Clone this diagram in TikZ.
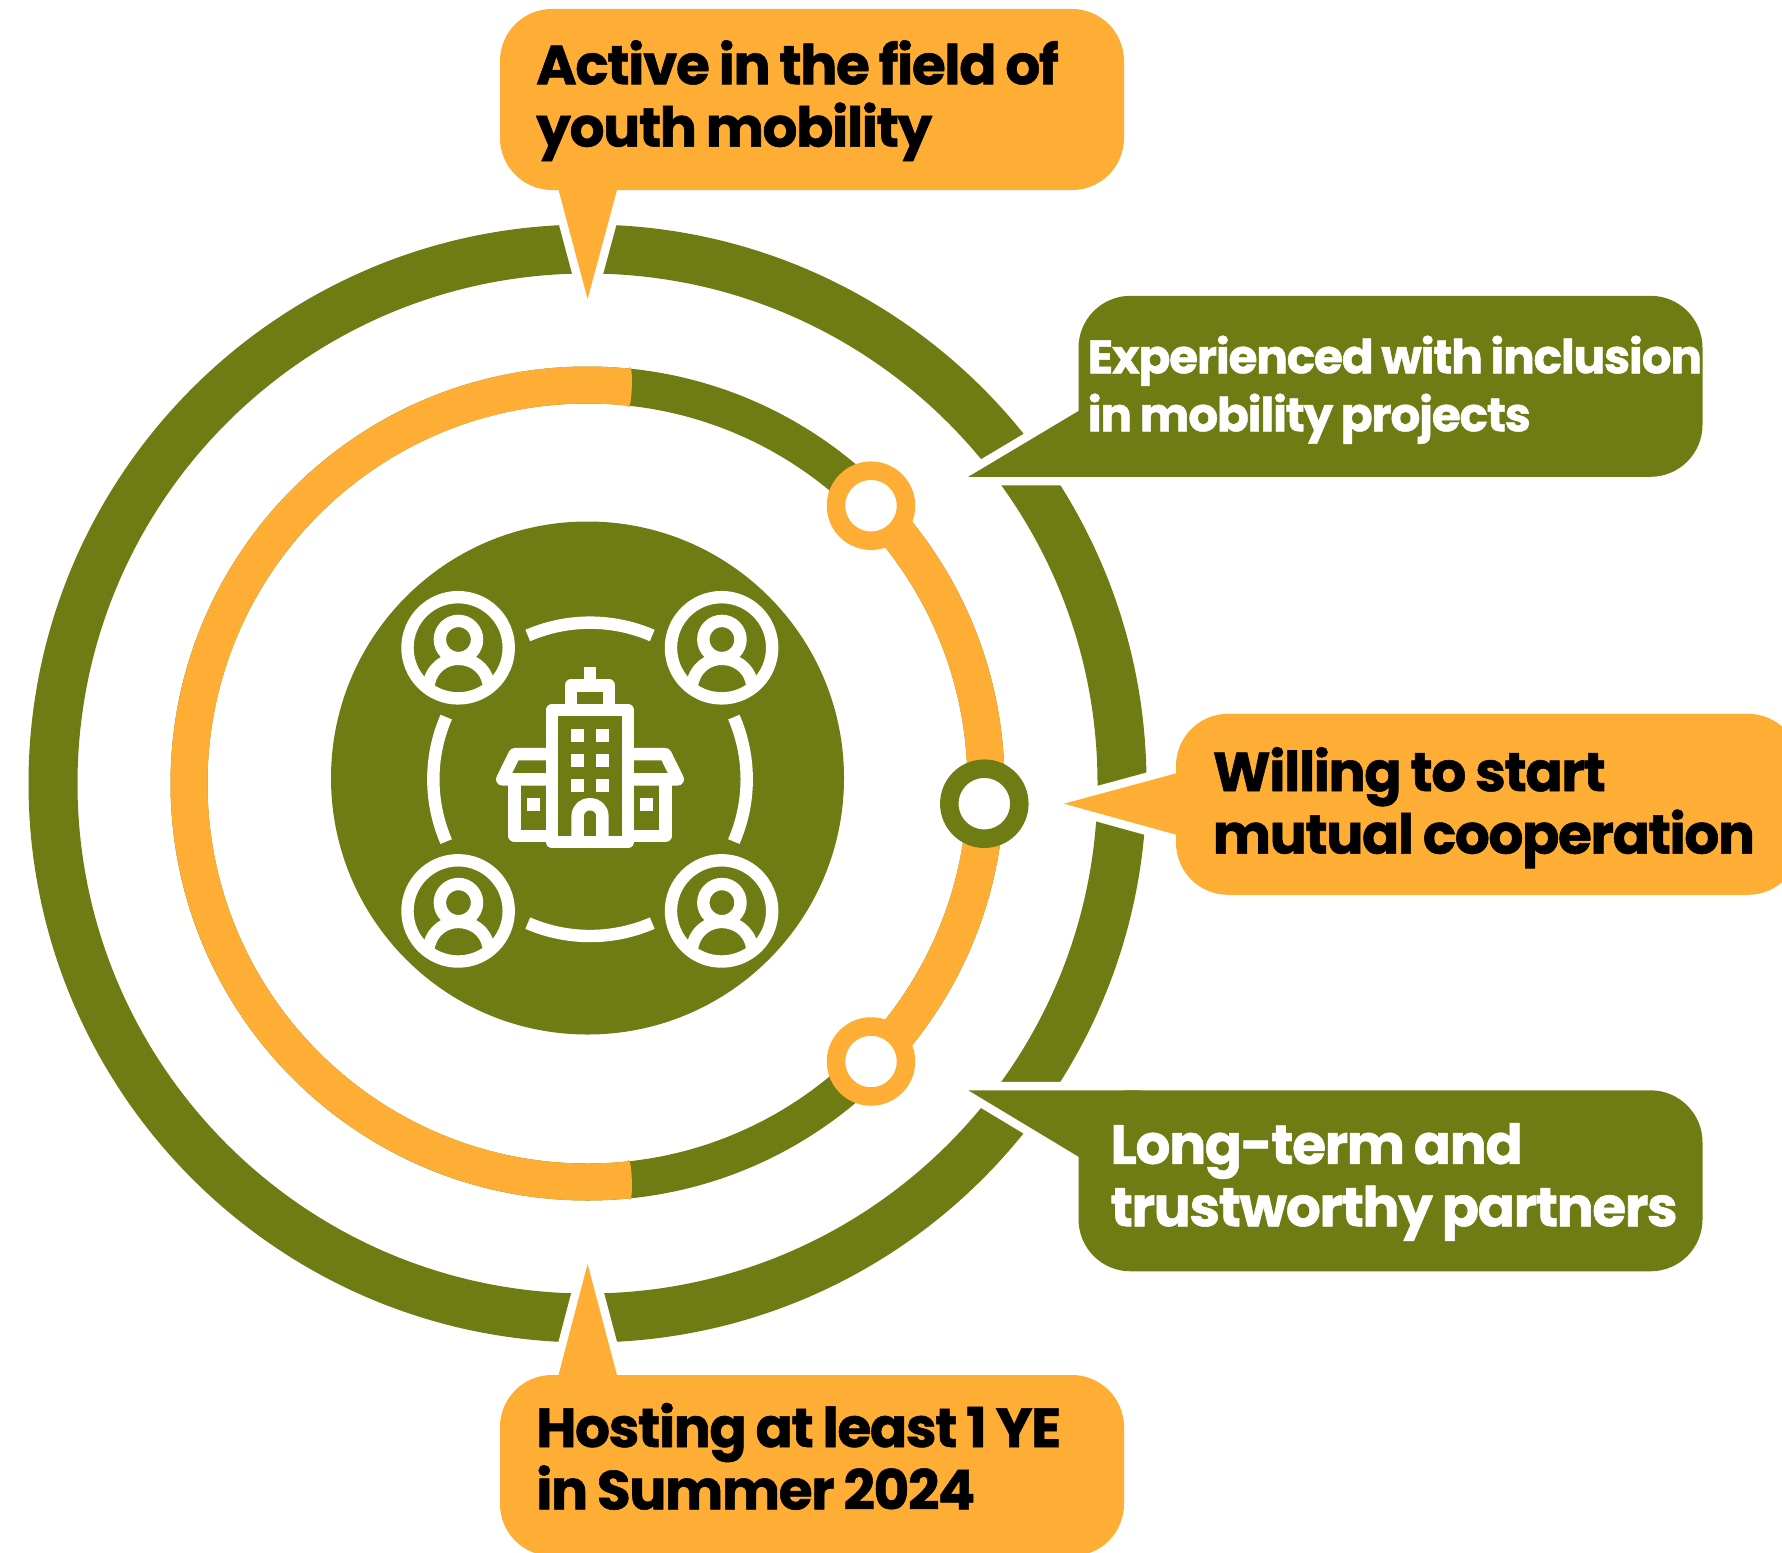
\documentclass[tikz,border=0pt]{standalone}
\usepackage{fontspec}
\newfontfamily\boldfont{Poppins}[UprightFont=* Bold,FakeBold=1,LetterSpace=-2.55]
\definecolor{olivegreen}{HTML}{6E7C13}
\definecolor{amber}{HTML}{FFAE35}
\newcommand{\callfont}[2]{\boldfont\fontsize{#1}{#2}\selectfont\setlength{\spaceskip}{0.16em}}
\tikzset{
  bubble/.style={rounded corners=52, minimum height=181, minimum width=624, inner sep=0pt},
  amberbubble/.style={bubble, fill=amber},
  greenbubble/.style={bubble, fill=olivegreen},
  calltext/.style n args={2}{anchor=west, inner sep=0pt, align=left, font=\callfont{#1}{#2}},
  halo/.style={draw=white, fill=white, line width=17, line join=round},
  marker/.style={circle, draw=#1, fill=white, line width=18.5, minimum size=70, inner sep=0pt},
  icon/.style={draw=white, line width=12.4, line join=round},
}
\begin{document}
\begin{tikzpicture}[x=1pt, y=-1pt]
  \useasboundingbox (0,0) rectangle (1782,1552);
  \coordinate (c) at (587.5,783.5);
  % rings
  \draw[olivegreen, line width=49] (c) circle (534.5);
  \draw[olivegreen, line width=37] (c) circle (398.5);
  \fill[amber] ([shift={(c)}]-84.3:417) arc [start angle=-84.3, end angle=-275.7, radius=417]
    .. controls +(5,12) and +(5,-12) .. ([shift={(c)}]-276:380)
    arc [start angle=-276, end angle=-84, radius=380]
    .. controls +(5,12) and +(5,-12) .. cycle;
  \draw[amber, line width=37] ([shift={(c)}]-44.4:398.5) arc [start angle=-44.4, end angle=44.4, radius=398.5];
  \node[circle, fill=olivegreen, minimum size=513, inner sep=0pt] (disc) at (587.5,778) {};
  \node[marker=amber] (mtop) at (871,505.7) {};
  \node[marker=olivegreen] (mmid) at (984.3,803.7) {};
  \node[marker=amber] (mbot) at (871,1061.5) {};
  % tail points
  \coordinate (activetip) at (587.6,299);
  \coordinate (activea) at (558,188);
  \coordinate (activeb) at (617.5,188);
  \coordinate (expertip) at (968.3,476.8);
  \coordinate (expera) at (1079,410.7);
  \coordinate (experb) at (1140,476.8);
  \coordinate (experc) at (1140,410.7);
  \coordinate (willtip) at (1064,803.7);
  \coordinate (willa) at (1176.3,773.3);
  \coordinate (willb) at (1176.3,834.7);
  \coordinate (longtip) at (968.3,1090.3);
  \coordinate (longa) at (1079,1157);
  \coordinate (longb) at (1140,1090.3);
  \coordinate (longc) at (1140,1157);
  \coordinate (hosttip) at (587.6,1264);
  \coordinate (hosta) at (558,1377);
  \coordinate (hostb) at (617.5,1377);
  % white gaps in the outer ring
  \draw[halo] (activea) -- (activetip) -- (activeb) -- cycle;
  \draw[halo] (expera) -- (expertip) -- (experb) -- (experc) -- cycle;
  \draw[halo] (willa) -- (willtip) -- (willb) -- cycle;
  \draw[halo] (longa) -- (longtip) -- (longb) -- (longc) -- cycle;
  \draw[halo] (hosta) -- (hosttip) -- (hostb) -- cycle;
  \fill[amber] (activea) -- (activetip) -- (activeb) -- cycle;
  \fill[olivegreen] (expera) -- (expertip) -- (experb) -- (experc) -- cycle;
  \fill[amber] (willa) -- (willtip) -- (willb) -- cycle;
  \fill[olivegreen] (longa) -- (longtip) -- (longb) -- (longc) -- cycle;
  \fill[amber] (hosta) -- (hosttip) -- (hostb) -- cycle;
  % callouts
  \node[amberbubble] (active) at (812,99.5) {};
  \node[greenbubble] (exper) at (1390.5,386.3) {};
  \node[amberbubble] (will) at (1488,804.3) {};
  \node[greenbubble] (long) at (1390.5,1180.8) {};
  \node[amberbubble] (host) at (812,1465.5) {};
  \node[calltext={55}{62.4}, text=black] (activetext) at (536,100.7) {Active in the field of\\youth mobility};
  \node[calltext={47}{58}, text=white] (expertext) at (1087.6,389.7) {Experienced with inclusion\\in mobility projects};
  \node[calltext={55}{62.4}, text=black] (willtext) at (1212.6,807.7) {Willing to start\\mutual cooperation};
  \node[calltext={55}{62.4}, text=white] (longtext) at (1110.4,1182) {Long-term and\\trustworthy partners};
  \node[calltext={55}{62.4}, text=black] (hosttext) at (536,1456.4) {Hosting at least 1 YE\\in Summer 2024};
  % centre icon
  \begin{scope}[shift={(320,510)}, scale=0.3444]
    \foreach \px/\py in {401/400, 1166/400, 401/1164, 1166/1164} {
      \begin{scope}[shift={(\px,\py)}]
        \draw[icon] (0,0) circle (147);
        \draw[icon] (1,-24) circle (54);
        \draw[icon] (-86,108) .. controls (-76,55) and (-36,32) .. (0,32)
          .. controls (39,32) and (79,55) .. (88,103);
      \end{scope}
    }
    \foreach \a in {0,90,180,270}
      \draw[icon, shift={(784,782)}] (\a-23.4:455) arc [start angle=\a-23.4, end angle=\a+23.4, radius=455];
    % tower
    \draw[icon] (674,964) rectangle (894,581);
    \draw[icon] (729,581) -- (729,509) -- (839,509) -- (839,581);
    \draw[icon] (784,455) -- (784,509);
    \foreach \wx in {729,801}
      \foreach \wy in {636,708,781}
        \fill[white] (\wx,\wy) rectangle ++(38,38);
    \draw[icon] (748,964) -- (748,890) .. controls (748,866) and (766,854) .. (784,854)
      .. controls (802,854) and (820,866) .. (820,890) -- (820,964);
    % wings
    \draw[icon] (674,709) -- (565,709) -- (529,782) -- (674,782);
    \draw[icon] (565,782) -- (565,946) -- (674,946);
    \draw[icon] (894,709) -- (1003,709) -- (1039,782) -- (894,782);
    \draw[icon] (1003,782) -- (1003,946) -- (894,946);
    \fill[white] (601,836) rectangle ++(38,38);
    \fill[white] (929,836) rectangle ++(38,38);
  \end{scope}
\end{tikzpicture}
\end{document}
